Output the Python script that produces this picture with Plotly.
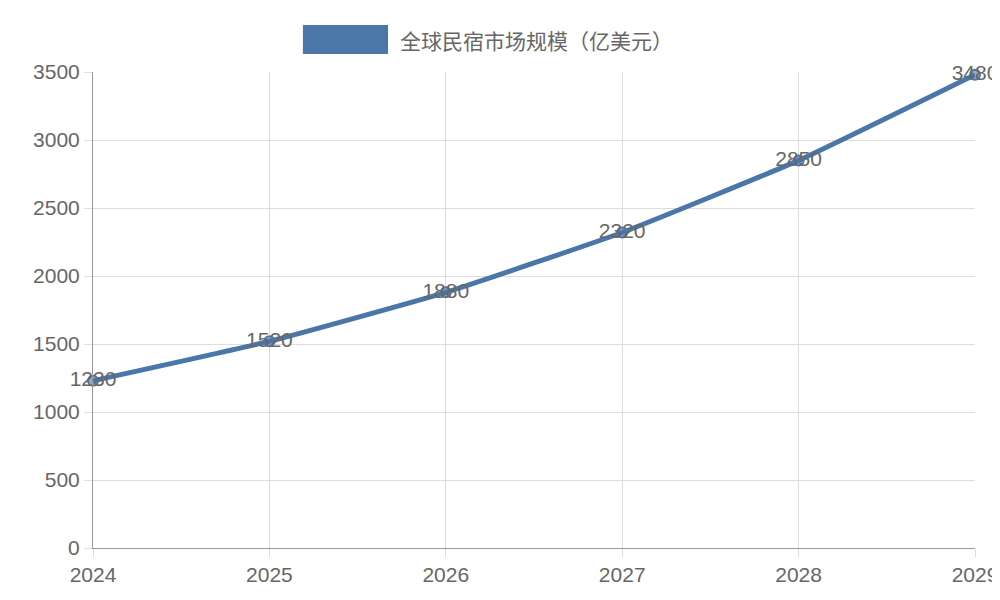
import plotly.graph_objects as go

years = ["2024", "2025", "2026", "2027", "2028", "2029"]
values = [1230, 1520, 1880, 2320, 2850, 3480]
series_name = "全球民宿市场规模（亿美元）"
color = "#4a76a8"

fig = go.Figure()
fig.add_trace(go.Scatter(
    x=years, y=values, mode="lines+markers+text",
    line=dict(color=color, width=5, shape="spline", smoothing=0.4),
    marker=dict(size=10, color="rgba(74,118,168,0.6)", line=dict(color=color, width=2)),
    text=[str(v) for v in values], textposition="middle center",
    textfont=dict(size=21, color="#666", family="Liberation Sans, Arial"),
    showlegend=False, cliponaxis=False, name=series_name,
))

axis_common = dict(showgrid=True, gridcolor="#ddd", showline=True, linecolor="#999",
                   linewidth=1, ticks="outside", ticklen=8, tickcolor="#ddd",
                   tickfont=dict(size=21, color="#666", family="Liberation Sans, Arial"),
                   zeroline=False, automargin=False)
fig.update_layout(
    width=1000, height=600, plot_bgcolor="white", paper_bgcolor="white",
    margin=dict(l=85, r=33, t=64, b=60, autoexpand=False),
    xaxis=dict(type="category", range=[0, 5], **axis_common),
    yaxis=dict(range=[0, 3500], dtick=500, **axis_common),
    showlegend=False,
)
# legend-like swatch and label
fig.add_shape(type="rect", xref="paper", yref="paper",
              x0=0.238, x1=0.3345, y0=1.038, y1=1.099,
              fillcolor=color, line=dict(width=0))
fig.add_annotation(xref="paper", yref="paper", x=0.346, y=1.068,
                   xanchor="left", yanchor="middle", showarrow=False,
                   text=series_name,
                   font=dict(size=21, color="#666", family="Noto Sans CJK SC"))
fig.write_html("out.html")
